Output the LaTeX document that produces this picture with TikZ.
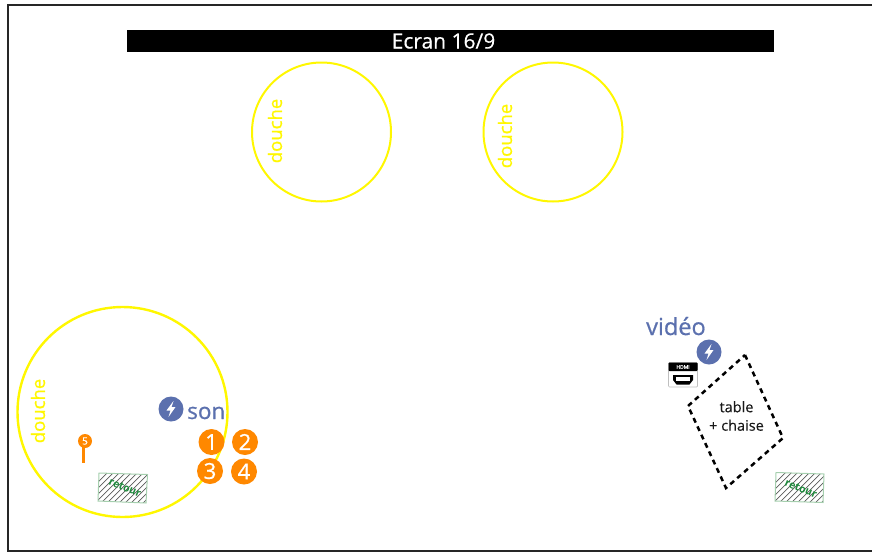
\documentclass[tikz,border=0pt]{standalone}
\usepackage{fontspec}
\setmainfont{Open Sans}
\newfontfamily\semib[FakeBold=0.7]{Open Sans}
\newfontfamily\semil[FakeBold=0.3]{Open Sans}
\definecolor{dyellow}{HTML}{FFF700}
\definecolor{dorange}{HTML}{FF8800}
\definecolor{dblue}{HTML}{5B70AE}
\definecolor{dgreen}{HTML}{1E8A3C}
\definecolor{dgreenb}{HTML}{A5CFAE}
\tikzset{
  douchecircle/.style={draw=dyellow,line width=#1,circle,inner sep=0pt},
  douchelabel/.style={text=dyellow,font=\semib\fontsize{18.5}{18.5}\selectfont,rotate=90,inner sep=0pt},
  numbadge/.style={fill=dorange,circle,minimum size=26pt,inner sep=0pt,text=white,font=\semib\fontsize{22}{22}\selectfont},
  boltbadge/.style={fill=dblue,circle,minimum size=25pt,inner sep=0pt},
  bolt/.style={fill=white,draw=none},
  bluelabel/.style={text=dblue,font=\semib\fontsize{#1}{#1}\selectfont,inner sep=0pt},
  retourbox/.style={draw=dgreenb,line width=1pt},
  hatchline/.style={draw=black!65,line width=.7pt},
  retourlabel/.style={text=dgreen,font=\bfseries\fontsize{10.5}{10.5}\selectfont,rotate=-22,inner sep=0pt}
}
\newcommand{\retourpatch}[5]{%
  \begin{scope}
    \clip #1 -- #2 -- #3 -- #4 -- cycle;
    \foreach \k in {-40,-34,...,60}
      \draw[hatchline] ($#5+(\k-10,20)$) -- ++(40,-40);
  \end{scope}
  \draw[retourbox] #1 -- #2 -- #3 -- #4 -- cycle;
}
\newcommand{\boltat}[1]{%
  \fill[bolt] ($(#1)+(2.5,-8)$) -- ($(#1)+(-4.5,1.5)$) -- ($(#1)+(-.5,1.5)$) -- ($(#1)+(-2.5,8)$) -- ($(#1)+(4.5,-2)$) -- ($(#1)+(.5,-2)$) -- cycle;
}
\usetikzlibrary{calc}
\begin{document}
\begin{tikzpicture}[x=1pt,y=-1pt]
\useasboundingbox (0,0) rectangle (872,552);
\draw[line width=2pt,draw=black!85] (8,5) -- (876,5) -- (876,550.5) -- (8,550.5) -- cycle;
\node[fill=black,minimum width=647pt,minimum height=22pt,inner sep=0pt] (ecran) at (450.5,41) {};
\node[text=white,font=\semil\fontsize{21}{21}\selectfont,inner sep=0pt] (ecrantxt) at (443.5,41) {Ecran 16/9};

\node[douchecircle=2pt,minimum size=139pt] (c1) at (321.5,132) {};
\node[douchecircle=2pt,minimum size=139pt] (c2) at (553,132) {};
\node[douchecircle=2.4pt,minimum size=210pt] (c3) at (122.5,412) {};
\node[douchelabel] (d1) at (275,131) {douche};
\node[douchelabel] (d2) at (505,136) {douche};
\node[douchelabel] (d3) at (38,411) {douche};

\node[boltbadge] (bs) at (171,409) {};
\boltat{bs}
\node[bluelabel=22.5,anchor=base west] (son) at (187,419) {son};
\node[boltbadge] (bv) at (709,352) {};
\boltat{bv}
\node[bluelabel=23.5,anchor=base west] (video) at (646,335) {vidéo};

\node[numbadge] (n1) at (211.5,442) {1};
\node[numbadge] (n2) at (245,442) {2};
\node[numbadge] (n3) at (210,471) {3};
\node[numbadge] (n4) at (244,471.5) {4};
\fill[dorange] (81.5,445) rectangle (85,462.5);
\node[fill=dorange,circle,minimum size=14pt,inner sep=0pt,text=white,font=\semil\fontsize{10}{10}\selectfont] (n5) at (85,441) {5};

\retourpatch{(99,473)}{(147.5,474.5)}{(146,503)}{(98,501)}{(122,488)}
\node[retourlabel] (r1) at (125,487.5) {retour};
\retourpatch{(776,472.5)}{(824,474)}{(823,502.5)}{(775,501)}{(800,488)}
\node[retourlabel] (r2) at (801,488.5) {retour};

% HDMI icon
\draw[draw=black!25,fill=white,rounded corners=1pt,line width=.7pt] (668.5,362.5) rectangle (697.5,387);
\fill[black,rounded corners=.8pt] (668.5,362.5) rectangle (697.5,371);
\node[text=white,font=\semib\fontsize{5}{5}\selectfont,inner sep=0pt] (hdmi) at (683,367) {HDMI};
\fill[black] (673,375) -- (693,375) -- (693,380) -- (689.5,384.5) -- (676.5,384.5) -- (673,380) -- cycle;
\fill[white] (676,377) rectangle (690,380.5);

\draw[line width=2.5pt,dash pattern=on 5pt off 4.2pt,line join=miter] (745,355) -- (783,438) -- (726,488) -- (688,406) -- cycle;
\node[align=center,font=\semil\fontsize{14.5}{18.5}\selectfont,inner sep=0pt,text=black!90] (table) at (736.5,416) {table\\+ chaise};
\end{tikzpicture}
\end{document}
